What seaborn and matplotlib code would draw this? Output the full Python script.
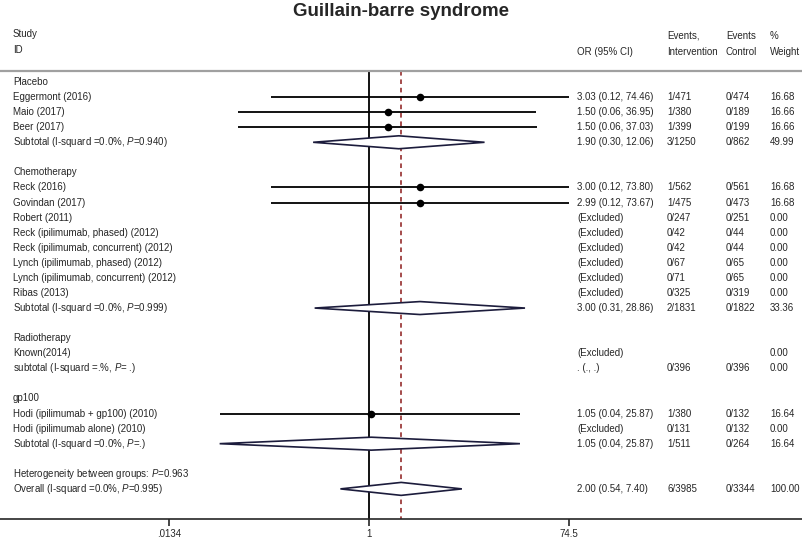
import numpy as np
import pandas as pd
import matplotlib
matplotlib.use("Agg")
import matplotlib.pyplot as plt
import matplotlib.transforms as mtransforms
import seaborn as sns

# rows of the forest plot, top to bottom ("" = blank spacer row)
labels = [
    "Placebo",
    "Eggermont (2016)",
    "Maio (2017)",
    "Beer (2017)",
    "Subtotal (I-squard =0.0%, $P$=0.940)",
    "",
    "Chemotherapy",
    "Reck (2016)",
    "Govindan (2017)",
    "Robert (2011)",
    "Reck (ipilimumab, phased) (2012)",
    "Reck (ipilimumab, concurrent) (2012)",
    "Lynch (ipilimumab, phased) (2012)",
    "Lynch (ipilimumab, concurrent) (2012)",
    "Ribas (2013)",
    "Subtotal (I-squard =0.0%, $P$=0.999)",
    "",
    "Radiotherapy",
    "Known(2014)",
    "subtotal (I-squard =.%, $P$= .)",
    "",
    "gp100",
    "Hodi (ipilimumab + gp100) (2010)",
    "Hodi (ipilimumab alone) (2010)",
    "Subtotal (I-squard =0.0%, $P$=.)",
    "",
    "Heterogeneity between groups: $P$=0.963",
    "Overall (I-squard =0.0%, $P$=0.995)",
]
# kind: h=group header, s=study, d=pooled (diamond), t=text only
kinds = ["h", "s", "s", "s", "d", "",
         "h", "s", "s", "s", "s", "s", "s", "s", "s", "d", "",
         "h", "s", "t", "",
         "h", "s", "s", "d", "",
         "t", "d"]
or_est = [None, 3.03, 1.50, 1.50, 1.90, None,
          None, 3.00, 2.99, None, None, None, None, None, None, 3.00, None,
          None, None, None, None,
          None, 1.05, None, 1.05, None,
          None, 2.00]
ci_lo = [None, 0.12, 0.06, 0.06, 0.30, None,
         None, 0.12, 0.12, None, None, None, None, None, None, 0.31, None,
         None, None, None, None,
         None, 0.04, None, 0.04, None,
         None, 0.54]
ci_hi = [None, 74.46, 36.95, 37.03, 12.06, None,
         None, 73.80, 73.67, None, None, None, None, None, None, 28.86, None,
         None, None, None, None,
         None, 25.87, None, 25.87, None,
         None, 7.40]
or_text = ["", "3.03 (0.12, 74.46)", "1.50 (0.06, 36.95)", "1.50 (0.06, 37.03)", "1.90 (0.30, 12.06)", "",
           "", "3.00 (0.12, 73.80)", "2.99 (0.12, 73.67)", "(Excluded)", "(Excluded)", "(Excluded)",
           "(Excluded)", "(Excluded)", "(Excluded)", "3.00 (0.31, 28.86)", "",
           "", "(Excluded)", ". (., .)", "",
           "", "1.05 (0.04, 25.87)", "(Excluded)", "1.05 (0.04, 25.87)", "",
           "", "2.00 (0.54, 7.40)"]
ev_int = ["", "1/471", "1/380", "1/399", "3/1250", "",
          "", "1/562", "1/475", "0/247", "0/42", "0/42", "0/67", "0/71", "0/325", "2/1831", "",
          "", "", "0/396", "",
          "", "1/380", "0/131", "1/511", "",
          "", "6/3985"]
ev_ctrl = ["", "0/474", "0/189", "0/199", "0/862", "",
           "", "0/561", "0/473", "0/251", "0/44", "0/44", "0/65", "0/65", "0/319", "0/1822", "",
           "", "", "0/396", "",
           "", "0/132", "0/132", "0/264", "",
           "", "0/3344"]
weight = ["", "16.68", "16.66", "16.66", "49.99", "",
          "", "16.68", "16.68", "0.00", "0.00", "0.00", "0.00", "0.00", "0.00", "33.36", "",
          "", "0.00", "0.00", "",
          "", "16.64", "0.00", "16.64", "",
          "", "100.00"]
overall_or = 2.00
tick_vals = [0.0134, 1, 74.5]
tick_labels = [".0134", "1", "74.5"]

sns.set_style("white")
plt.rcParams["font.family"] = ["Liberation Sans", "DejaVu Sans"]
plt.rcParams["mathtext.fontset"] = "custom"
plt.rcParams["mathtext.rm"] = "Liberation Sans"
plt.rcParams["mathtext.it"] = "Liberation Sans:italic"

df = pd.DataFrame({"label": labels, "kind": kinds, "OR": or_est, "lo": ci_lo, "hi": ci_hi})
df["row"] = np.arange(len(df))
studies = df[(df["kind"] == "s") & df["OR"].notna()]
pooled = df[(df["kind"] == "d") & df["OR"].notna()]

W, H = 802, 540
fig = plt.figure(figsize=(W / 100, H / 100), dpi=100)
axis_px = 519
row0_px, row_step = 82, 15.07
ax = fig.add_axes([0, (H - axis_px) / H, 1, axis_px / H])
ax.set_xscale("log")
ppu = 46.4  # px per ln unit
x1_px = 369
ax.set_xlim(np.exp(-x1_px / ppu), np.exp((W - x1_px) / ppu))
ax.set_ylim((axis_px - row0_px) / row_step, -row0_px / row_step)


def py(px):
    return (px - row0_px) / row_step


top = py(71)
bottom = (axis_px - row0_px) / row_step
ax.vlines(1, top, bottom, color="black", lw=1.3)
ax.vlines(overall_or, top, bottom, color="#8b1a1a", lw=1.1, linestyles=(0, (3, 2.5)))

# confidence intervals and point estimates
ax.hlines(studies["row"], studies["lo"], studies["hi"], color="black", lw=1.3)
sns.scatterplot(data=studies, x="OR", y="row", color="black", s=30, edgecolor="black",
                linewidth=0, ax=ax, legend=False, zorder=4)

# pooled estimates as diamonds
hh = 0.43
for _, r in pooled.iterrows():
    xs = [r["lo"], r["OR"], r["hi"], r["OR"], r["lo"]]
    ys = [r["row"], r["row"] - hh, r["row"], r["row"] + hh, r["row"]]
    ax.fill(xs, ys, facecolor="white", edgecolor="#1c1c3c", lw=1.2, zorder=3)

# text columns
tr = mtransforms.blended_transform_factory(ax.transAxes, ax.transData)
fs = 7
cols = [(13, labels), (577, or_text), (667, ev_int), (726, ev_ctrl), (770, weight)]
for xpx, vals in cols:
    for i, v in enumerate(vals):
        if v:
            ax.text(xpx / W, i, v, transform=tr, fontsize=fs, va="center", ha="left")

# header
for xpx, ypx, txt in [(13, 34, "Study"), (13, 50, "ID"), (577, 52, "OR (95% CI)"),
                      (667, 36, "Events,"), (667, 52, "Intervention"),
                      (726, 36, "Events"), (726, 52, "Control"),
                      (770, 36, "%"), (770, 52, "Weight")]:
    ax.text(xpx / W, py(ypx), txt, transform=tr, fontsize=fs, va="center", ha="left")
ax.plot([0, 1], [top, top], transform=tr, color="#a0a0a0", lw=1.6, clip_on=False)
ax.text(0.5, py(11), "Guillain-barre syndrome", transform=tr, fontsize=13.5,
        fontweight="bold", ha="center", va="center")

# axis
for s in ["top", "left", "right"]:
    ax.spines[s].set_visible(False)
ax.spines["bottom"].set_linewidth(1.2)
ax.set_yticks([])
ax.set_xticks(tick_vals)
ax.set_xticklabels(tick_labels, fontsize=fs)
ax.minorticks_off()
ax.tick_params(axis="x", direction="out", length=5, width=1.2, pad=2, bottom=True)
ax.set_xlabel("")
ax.set_ylabel("")

fig.savefig("out.png", dpi=100)
